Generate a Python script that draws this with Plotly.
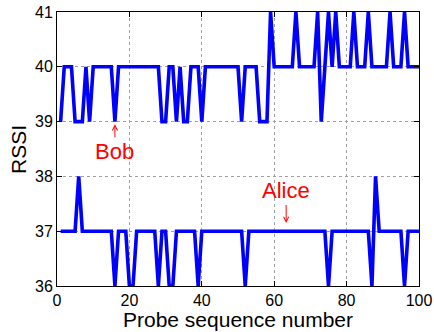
import plotly.graph_objects as go

probe = list(range(1, 101))

bob_rssi = [39, 40, 40, 40, 39, 39, 39, 40, 39, 40,
            40, 40, 40, 40, 40, 39, 40, 40, 40, 40,
            40, 40, 40, 40, 40, 40, 40, 40, 39, 39,
            40, 40, 39, 40, 39, 39, 40, 40, 40, 39,
            40, 40, 40, 40, 40, 40, 40, 40, 40, 40,
            39, 40, 40, 40, 40, 39, 39, 39, 41, 40,
            40, 40, 40, 40, 40, 41, 40, 40, 40, 40,
            40, 41, 39, 40, 41, 40, 41, 40, 40, 40,
            40, 41, 40, 40, 40, 41, 40, 40, 40, 40,
            40, 41, 40, 40, 40, 41, 40, 40, 40, 40]

alice_rssi = [37, 37, 37, 37, 37, 38, 37, 37, 37, 37,
              37, 37, 37, 37, 37, 36, 37, 37, 37, 36,
              36, 37, 37, 37, 37, 37, 37, 36, 37, 37,
              36, 36, 37, 37, 37, 37, 37, 37, 36, 37,
              37, 37, 37, 37, 37, 37, 37, 37, 37, 37,
              37, 36, 37, 37, 37, 37, 37, 37, 37, 37,
              37, 37, 37, 37, 37, 37, 37, 37, 37, 37,
              37, 37, 37, 37, 36, 37, 37, 37, 37, 37,
              37, 37, 37, 37, 37, 37, 36, 38, 37, 37,
              37, 37, 37, 37, 37, 36, 37, 37, 37, 37]

x_ticks = [0, 20, 40, 60, 80, 100]
y_ticks = [36, 37, 38, 39, 40, 41]

FONT = "Liberation Sans, Arial, Helvetica, sans-serif"
BLUE = "#0000ff"
RED = "#ff0000"

fig = go.Figure()
fig.add_trace(go.Scatter(x=probe, y=bob_rssi, mode="lines",
                         line=dict(color=BLUE, width=3.6), name="Bob",
                         showlegend=False))
fig.add_trace(go.Scatter(x=probe, y=alice_rssi, mode="lines",
                         line=dict(color=BLUE, width=3.6), name="Alice",
                         showlegend=False))

ann_font = dict(family=FONT, size=22, color=RED)
# Bob label with arrow pointing up toward the trace
fig.add_annotation(x=16, y=38.95, ax=0, ay=27, text="Bob", showarrow=True,
                   arrowhead=5, arrowsize=1, arrowwidth=1, arrowcolor=RED,
                   font=ann_font)
# Alice label with arrow pointing down toward the trace
fig.add_annotation(x=63.3, y=37.15, ax=0, ay=-32, text="Alice", showarrow=True,
                   arrowhead=5, arrowsize=1, arrowwidth=1, arrowcolor=RED,
                   font=ann_font)

# axis titles
title_font = dict(family=FONT, size=21, color="black")
fig.add_annotation(xref="paper", yref="paper", x=0.5, y=-0.124,
                   text="Probe sequence number", showarrow=False,
                   xanchor="center", yanchor="middle", font=title_font)
fig.add_annotation(xref="paper", yref="paper", x=-0.108, y=0.5,
                   text="RSSI", showarrow=False, textangle=-90,
                   xanchor="center", yanchor="middle", font=title_font)

axis_common = dict(
    showline=True, linecolor="black", linewidth=1, mirror="ticks",
    ticks="inside", ticklen=5, tickcolor="black",
    showgrid=True, gridcolor="#a0a0a0", gridwidth=1, griddash="dot",
    zeroline=False, automargin=False,
    tickfont=dict(family=FONT, size=16, color="black"),
)

fig.update_xaxes(range=[0, 100], tickvals=x_ticks, **axis_common)
fig.update_yaxes(range=[36, 41], tickvals=y_ticks, **axis_common)

fig.update_layout(width=434, height=332, autosize=False,
                  margin=dict(l=57, r=15, t=12, b=46),
                  plot_bgcolor="white", paper_bgcolor="white")

fig.write_html("out.html",
               config={"displayModeBar": False},
               post_script="document.body.style.margin='0';document.body.style.padding='0';")
